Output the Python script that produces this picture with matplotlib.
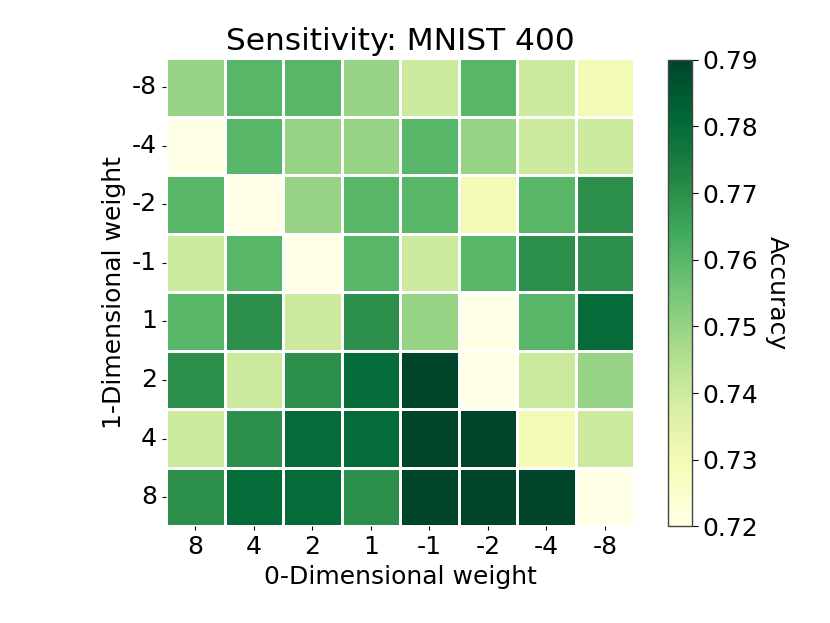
import matplotlib
matplotlib.use("Agg")
import matplotlib.pyplot as plt
import numpy as np
import seaborn as sns

# 0-dim weight (columns) and 1-dim weight (rows)
x_labels = ["8", "4", "2", "1", "-1", "-2", "-4", "-8"]
y_labels = ["-8", "-4", "-2", "-1", "1", "2", "4", "8"]

row_m8 = [0.75, 0.76, 0.76, 0.75, 0.74, 0.76, 0.74, 0.73]
row_m4 = [0.72, 0.76, 0.75, 0.75, 0.76, 0.75, 0.74, 0.74]
row_m2 = [0.76, 0.72, 0.75, 0.76, 0.76, 0.73, 0.76, 0.77]
row_m1 = [0.74, 0.76, 0.72, 0.76, 0.74, 0.76, 0.77, 0.77]
row_p1 = [0.76, 0.77, 0.74, 0.77, 0.75, 0.72, 0.76, 0.78]
row_p2 = [0.77, 0.74, 0.77, 0.78, 0.79, 0.72, 0.74, 0.75]
row_p4 = [0.74, 0.77, 0.78, 0.78, 0.79, 0.79, 0.73, 0.74]
row_p8 = [0.77, 0.78, 0.78, 0.77, 0.79, 0.79, 0.79, 0.72]

acc = np.array([row_m8, row_m4, row_m2, row_m1, row_p1, row_p2, row_p4, row_p8])

fig = plt.figure(figsize=(8.3, 6.23), dpi=100)
ax = fig.add_axes([0.2, 0.155, 0.564, 0.752])
cax = fig.add_axes([0.805, 0.155, 0.029, 0.749])

sns.heatmap(acc, ax=ax, cbar_ax=cax, cmap="YlGn", vmin=0.72, vmax=0.79,
            linewidths=2, linecolor="white",
            xticklabels=x_labels, yticklabels=y_labels)

ax.set_title("Sensitivity: MNIST 400", fontsize=22.5)
ax.set_xlabel("0-Dimensional weight", fontsize=18)
ax.set_ylabel("1-Dimensional weight", fontsize=18)
ax.tick_params(axis="both", labelsize=18, length=3, width=0.8)
ax.set_yticklabels(y_labels, rotation=0)
ax.set_xticklabels(x_labels, rotation=0)

cb = ax.collections[0].colorbar
cb.set_ticks([0.72, 0.73, 0.74, 0.75, 0.76, 0.77, 0.78, 0.79])
cb.ax.tick_params(labelsize=18, length=4, width=0.8)
cb.outline.set_visible(True)
cb.outline.set_linewidth(1)
cb.outline.set_edgecolor("#444444")
cb.set_label("Accuracy", fontsize=18, rotation=270, labelpad=22)

fig.savefig("out.png", dpi=100)
